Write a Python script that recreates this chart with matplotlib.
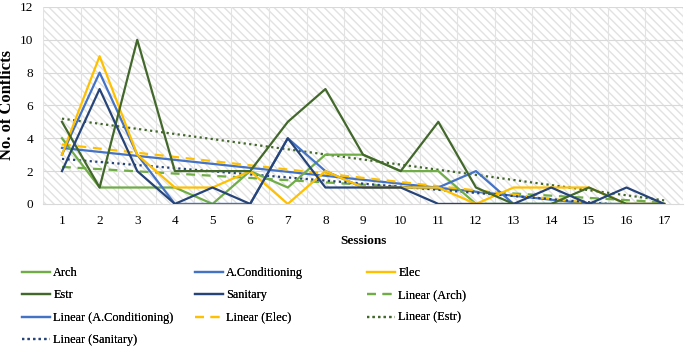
import matplotlib.pyplot as plt
import numpy as np

plt.rcParams['font.family'] = ['Liberation Serif', 'DejaVu Serif']
plt.rcParams['hatch.color'] = "#e2e2e2"

sessions = list(range(1, 18))
arch = [4, 1, 1, 1, 0, 2, 1, 3, 3, 2, 2, 0, 0, 0, 0, 0, 0]
acond = [3, 8, 3, 0, 0, 0, 4, 2, 1, 1, 1, 2, 0, 0, 0, 0, 0]
elec = [3, 9, 3, 1, 1, 2, 0, 2, 1, 1, 1, 0, 1, 1, 1, 0, 0]
estr = [5, 1, 10, 2, 2, 2, 5, 7, 3, 2, 5, 1, 0, 0, 1, 0, 0]
sanitary = [2, 7, 2, 0, 1, 0, 4, 1, 1, 1, 0, 0, 0, 1, 0, 1, 0]

names = ["Arch", "A.Conditioning", "Elec", "Estr", "Sanitary"]
series = [arch, acond, elec, estr, sanitary]
colors = ["#70AD47", "#4472C4", "#FFC000", "#43682B", "#264478"]
trend_styles = [(0, (4, 3)), "-", (0, (4, 3)), (0, (1, 1.5)), (0, (1, 1.5))]


def main():
    fig = plt.figure(figsize=(6.85, 3.48), dpi=100)
    ax = fig.add_axes([0.063, 0.414, 0.934, 0.566])

    x = np.array(sessions)
    handles = {}
    for name, vals, col in zip(names, series, colors):
        h, = ax.plot(x, vals, color=col, lw=1.6, label=name, zorder=3)
        handles[name] = h
    for name, vals, col, ls in zip(names, series, colors, trend_styles):
        # linear trendline like excel
        m, b = np.polyfit(x, vals, 1)
        h, = ax.plot(x, m * x + b, color=col, lw=1.6, ls=ls,
                     label=f"Linear ({name})", zorder=2)
        handles[f"Linear ({name})"] = h

    ax.set_xlim(0.5, 17.5)
    ax.set_ylim(0, 12)
    ax.set_xticks(sessions)
    ax.set_yticks(range(0, 13, 2))
    ax.tick_params(axis='y', length=0, labelsize=9.5, pad=7)
    ax.tick_params(axis='x', length=0, labelsize=9.5, pad=8)
    for yv in range(2, 13, 2):
        ax.axhline(yv, color="#d9d9d9", lw=0.8, zorder=1)
    for xv in np.arange(0.5, 18, 1):
        ax.axvline(xv, color="#e3e3e3", lw=0.8, zorder=1)
    ax.add_patch(plt.Rectangle((0, 0), 1, 1, transform=ax.transAxes,
                               facecolor="none", edgecolor="#e2e2e2",
                               hatch="\\\\\\\\", lw=0, zorder=0))
    for s in ["top", "right", "left"]:
        ax.spines[s].set_visible(False)
    ax.spines["bottom"].set_color("#d9d9d9")

    ax.set_xlabel("Sessions", fontweight="bold", fontsize=9.5, labelpad=6)
    ax.set_ylabel("No. of Conflicts", fontweight="bold", fontsize=12, labelpad=4)

    # excel-style legend: three equal-width columns
    cols = [["Arch", "Estr", "Linear (A.Conditioning)", "Linear (Sanitary)"],
            ["A.Conditioning", "Sanitary", "Linear (Elec)"],
            ["Elec", "Linear (Arch)", "Linear (Estr)"]]
    for xpos, labels in zip([22, 195, 367], cols):
        leg = fig.legend([handles[k] for k in labels], labels, frameon=False,
                         loc="upper left", bbox_to_anchor=(xpos / 685, 1 - 267 / 348),
                         fontsize=8.8, handlelength=2.3, handletextpad=0.25,
                         labelspacing=0.85, borderaxespad=0, borderpad=0)
        fig.add_artist(leg)

    fig.savefig("out.png", dpi=100)


if __name__ == "__main__":
    main()
